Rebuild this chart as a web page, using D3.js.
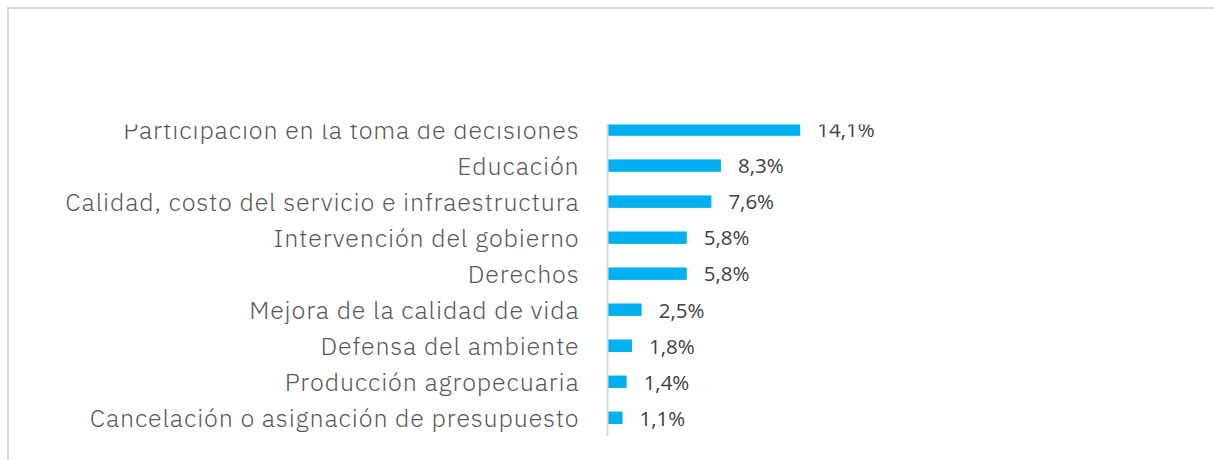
<!DOCTYPE html>
<html>
<head>
<meta charset="utf-8">
<script src="https://cdn.jsdelivr.net/npm/d3@7"></script>
<style>
  html, body { margin: 0; padding: 0; background: #fff; }
  svg { display: block; }
  .cat { font-family: "IBM Plex Sans", "Noto Sans", sans-serif; font-weight: 300; fill: #595959; }
  .val { font-family: "Open Sans", "Noto Sans", sans-serif; fill: #404040; }
</style>
</head>
<body>
<svg id="chart" width="1214" height="460"></svg>
<script>
var categories = [
  'Participación en la toma de decisiones',
  'Educación',
  'Calidad, costo del servicio e infraestructura',
  'Intervención del gobierno',
  'Derechos',
  'Mejora de la calidad de vida',
  'Defensa del ambiente',
  'Producción agropecuaria',
  'Cancelación o asignación de presupuesto'
];
var values = [14.1, 8.3, 7.6, 5.8, 5.8, 2.5, 1.8, 1.4, 1.1];
var valueLabels = ['14,1%', '8,3%', '7,6%', '5,8%', '5,8%', '2,5%', '1,8%', '1,4%', '1,1%'];

var svg = d3.select('#chart');

// outer frame, runs off the right and bottom of the picture
svg.append('rect')
  .attr('x', 8).attr('y', 8)
  .attr('width', 1300).attr('height', 600)
  .attr('fill', 'none')
  .attr('stroke', '#d9d9d9')
  .attr('stroke-width', 2);

// the plot is cut off at the top
svg.append('clipPath').attr('id', 'plotClip')
  .append('rect')
  .attr('x', 0).attr('y', 124.5)
  .attr('width', 1214).attr('height', 340);

var x = d3.scaleLinear().domain([0, 16]).range([607.5, 826.2]);
var y = d3.scaleBand().domain(categories)
  .range([111.6, 435.8])
  .paddingInner(0.655)
  .paddingOuter(0.3275);

var g = svg.append('g').attr('clip-path', 'url(#plotClip)');

g.selectAll('rect.bar')
  .data(values)
  .enter().append('rect')
  .attr('class', 'bar')
  .attr('x', x(0))
  .attr('y', function(d, i) { return y(categories[i]); })
  .attr('width', function(d) { return x(d) - x(0); })
  .attr('height', y.bandwidth())
  .attr('fill', '#00b0f0');

// category axis, no ticks
var axis = g.append('g')
  .attr('transform', 'translate(' + x(0) + ',0)')
  .call(d3.axisLeft(y).tickSize(0).tickPadding(28));
axis.select('.domain')
  .attr('d', 'M0,' + y.range()[0] + 'V' + y.range()[1])
  .attr('stroke', '#d9d9d9')
  .attr('stroke-width', 2);
axis.selectAll('text')
  .attr('class', 'cat')
  .attr('fill', null)
  .style('font-size', '25px')
  .style('letter-spacing', '0.85px')
  .attr('dy', '0.36em');
axis.attr('font-size', null).attr('font-family', null);

g.selectAll('text.val')
  .data(values)
  .enter().append('text')
  .attr('class', 'val')
  .attr('x', function(d) { return x(d) + 17; })
  .attr('y', function(d, i) { return y(categories[i]) + y.bandwidth() / 2; })
  .attr('dy', '0.38em')
  .style('font-size', '20.5px')
  .text(function(d, i) { return valueLabels[i]; });
</script>
</body>
</html>
